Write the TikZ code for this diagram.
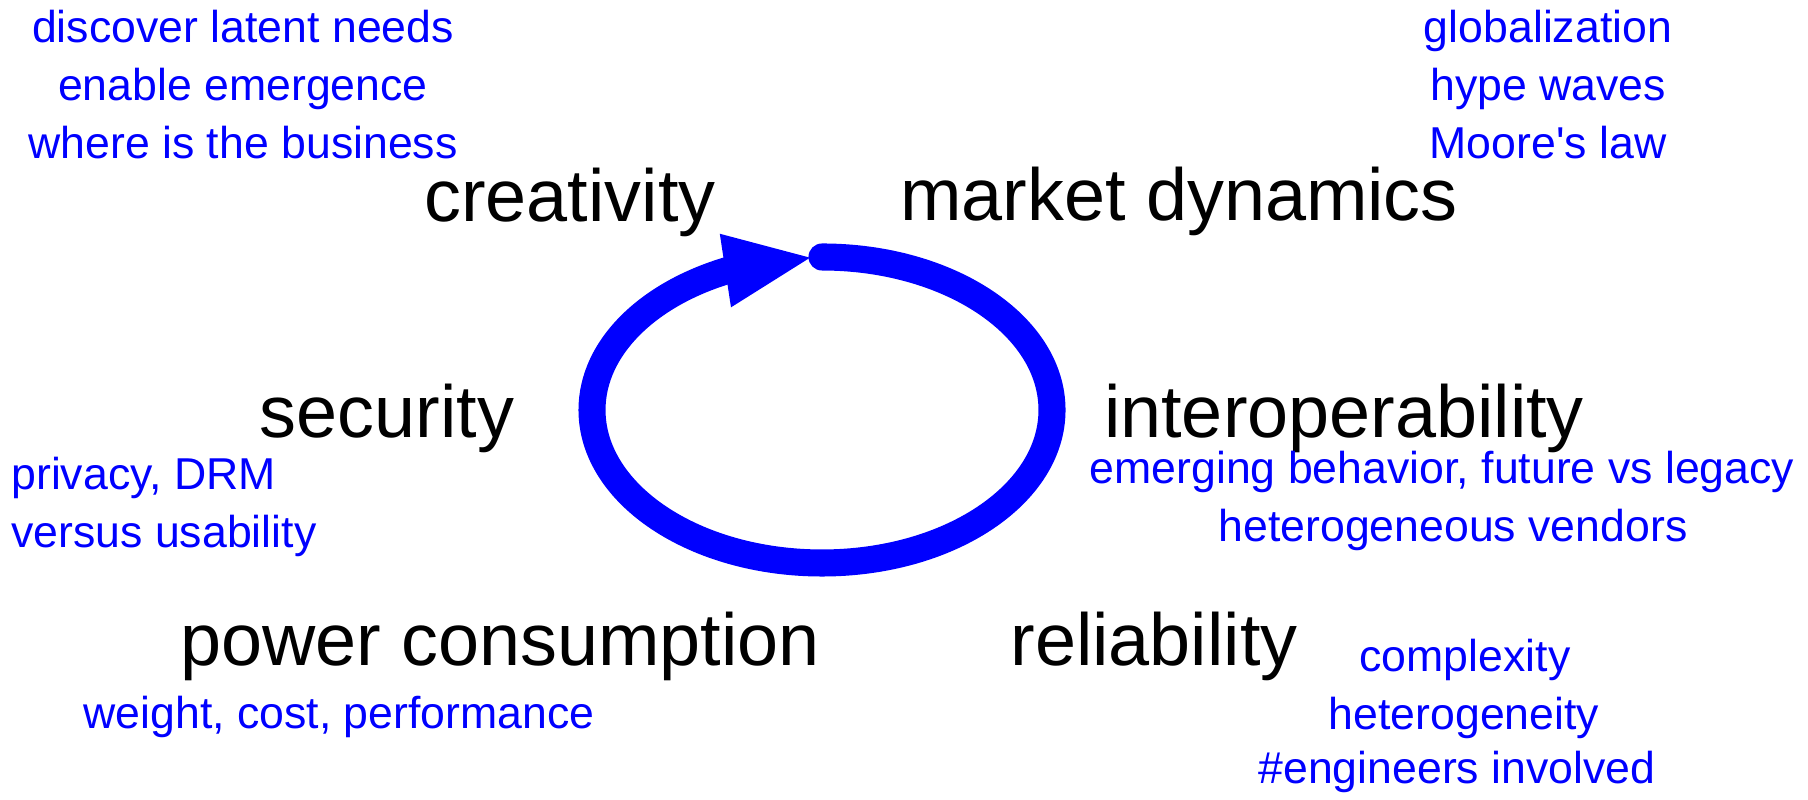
\documentclass[tikz,border=0pt]{standalone}
\usepackage{fontspec}
\setmainfont{Liberation Sans}
\usetikzlibrary{arrows.meta,bending}
\tikzset{>=Stealth}
\tikzset{topic/.style={font=\fontsize{42}{50}\selectfont,anchor=base,inner sep=0pt},
  note/.style={text=blue,font=\fontsize{25.4}{30}\selectfont,anchor=base,inner sep=0pt}}

\begin{document}
\begin{tikzpicture}[x=0.02cm,y=0.02cm]
\useasboundingbox (0,0) rectangle (1808,800);
% the cycle
\coordinate (top) at (822,543);
\draw[blue,line width=15.4pt,line cap=round,-{Triangle[length=51pt,width=38pt,flex]}]
  (top) arc[start angle=90,end angle=-268,x radius=230,y radius=153];
% main topics
\node[topic] (crea) at (570,578) {creativity};
\node[topic] (mark) at (1179,579) {market dynamics};
\node[topic] (secu) at (387,362) {security};
\node[topic] (inter) at (1344,362) {interoperability};
\node[topic] (power) at (500,134) {power consumption};
\node[topic] (rel) at (1154,134) {reliability};
% remarks
\foreach \t [count=\i] in {discover latent needs,enable emergence,where is the business}
  \node[note] (crea-\i) at (243,815-58*\i) {\t};
\foreach \t [count=\i] in {globalization,hype waves,Moore\textquotesingle s law}
  \node[note] (mark-\i) at (1548,815-58*\i) {\t};
\foreach \t [count=\i] in {{privacy, DRM},versus usability}
  \node[note,anchor=base west] (secu-\i) at (11,368-58*\i) {\t};
\node[note] (inter-1) at (1442,316) {emerging behavior, future vs legacy};
\node[note] (inter-2) at (1453,258) {heterogeneous vendors};
\node[note] (power-1) at (339,71) {weight, cost, performance};
\node[note] (rel-1) at (1465,128) {complexity};
\node[note] (rel-2) at (1464,70) {heterogeneity};
\node[note] (rel-3) at (1457,16) {\#engineers involved};
\end{tikzpicture}
\end{document}
